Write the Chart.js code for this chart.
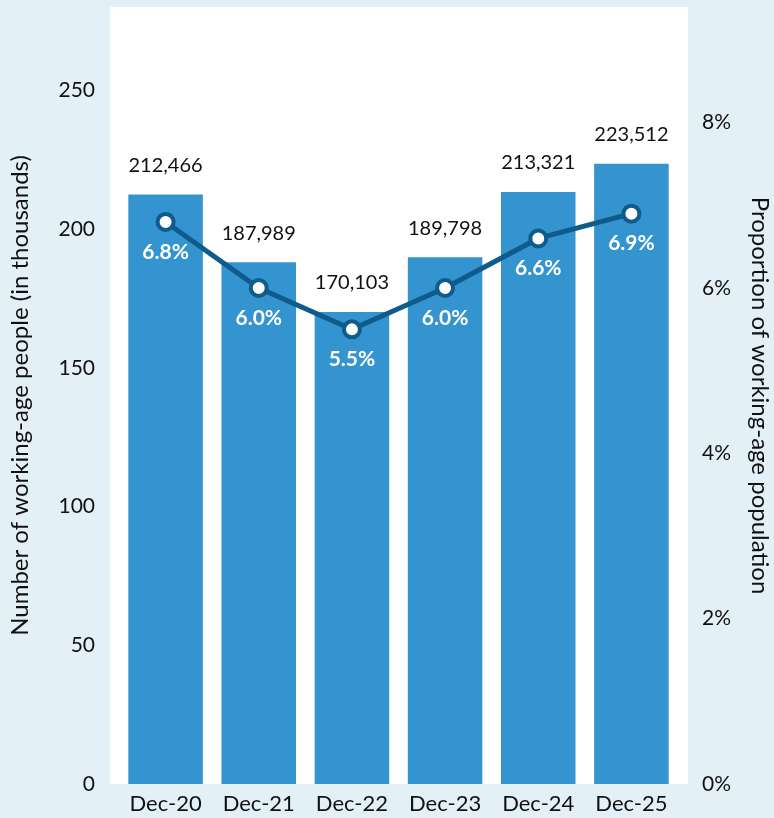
<!DOCTYPE html>
<html>
<head>
<meta charset="utf-8">
<script src="https://cdn.jsdelivr.net/npm/chart.js@4"></script>
<style>
  html, body { margin: 0; padding: 0; background: #e4f0f8; }
  #wrap { width: 774px; height: 818px; }
</style>
</head>
<body>
<div id="wrap"><canvas id="myChart" width="774" height="818"></canvas></div>
<script>
// Datos del gráfico
const categories = ["Dec-20", "Dec-21", "Dec-22", "Dec-23", "Dec-24", "Dec-25"];
const peopleCount = [212466, 187989, 170103, 189798, 213321, 223512];
const proportion = [6.8, 6.0, 5.5, 6.0, 6.6, 6.9];
const leftTicks = [0, 50, 100, 150, 200, 250];
const rightTicks = [0, 2, 4, 6, 8];

const FONT = "Lato, 'Noto Sans', sans-serif";
const BAR_COLOR = "#3494d0";
const LINE_COLOR = "#0e5b8c";

// Fondo azul claro y zona blanca del gráfico
const backgroundPlugin = {
  id: "bgPanel",
  beforeDraw(chart) {
    const { ctx, chartArea: a } = chart;
    ctx.save();
    ctx.fillStyle = "#e4f0f8";
    ctx.fillRect(0, 0, chart.width, chart.height);
    ctx.fillStyle = "#ffffff";
    ctx.fillRect(a.left - 9, a.top, a.right - a.left + 19, a.bottom - a.top);
    ctx.restore();
  },
};

// Etiquetas de valores sobre las barras y debajo de los puntos
const labelsPlugin = {
  id: "valueLabels",
  afterDatasetsDraw(chart) {
    const ctx = chart.ctx;
    ctx.save();
    ctx.textAlign = "center";
    ctx.textBaseline = "middle";

    const barMeta = chart.getDatasetMeta(1);
    ctx.font = "20px " + FONT;
    ctx.fillStyle = "#111111";
    barMeta.data.forEach((bar, i) => {
      ctx.fillText(peopleCount[i].toLocaleString("en-US"), bar.x, bar.y - 29);
    });

    const lineMeta = chart.getDatasetMeta(0);
    ctx.font = "bold 21px " + FONT;
    ctx.fillStyle = "#ffffff";
    lineMeta.data.forEach((pt, i) => {
      ctx.fillText(proportion[i].toFixed(1) + "%", pt.x, pt.y + 30);
    });
    ctx.restore();
  },
};

// Ajusta el ancho fijo de un eje vertical sin relleno extra
function fixWidth(w) {
  return (scale) => {
    scale.width = w;
    scale.paddingTop = 0;
    scale.paddingBottom = 0;
  };
}

const ctx = document.getElementById("myChart").getContext("2d");
new Chart(ctx, {
  data: {
    labels: categories,
    datasets: [
      {
        type: "line",
        data: proportion,
        yAxisID: "yRight",
        borderColor: LINE_COLOR,
        borderWidth: 5,
        pointRadius: 8,
        pointBorderWidth: 4,
        pointBackgroundColor: "#ffffff",
        pointBorderColor: LINE_COLOR,
        tension: 0,
        order: 0,
      },
      {
        type: "bar",
        data: peopleCount.map((v) => v / 1000),
        yAxisID: "yLeft",
        backgroundColor: BAR_COLOR,
        categoryPercentage: 0.8,
        barPercentage: 1,
        order: 1,
      },
    ],
  },
  options: {
    responsive: false,
    animation: false,
    layout: { autoPadding: false, padding: { top: 7, left: 0, right: 0, bottom: 0 } },
    plugins: { legend: { display: false }, tooltip: { enabled: false } },
    scales: {
      x: {
        grid: { display: false, drawTicks: false },
        border: { display: false },
        ticks: { color: "#111111", font: { family: FONT, size: 22 }, padding: 7 },
        afterFit(scale) {
          scale.height = 34;
          scale.paddingLeft = 0;
          scale.paddingRight = 0;
        },
      },
      yLeft: {
        position: "left",
        min: 0,
        max: 280,
        grid: { display: false, drawTicks: false },
        border: { display: false },
        afterBuildTicks(scale) { scale.ticks = leftTicks.map((v) => ({ value: v })); },
        ticks: { color: "#111111", font: { family: FONT, size: 21 }, padding: 24 },
        title: {
          display: true,
          text: "Number of working-age people (in thousands)",
          color: "#111111",
          font: { family: FONT, size: 24 },
          padding: { top: 6, bottom: 0 },
        },
        afterFit: fixWidth(119),
      },
      yRight: {
        position: "right",
        min: 0,
        max: 9.4,
        grid: { display: false, drawTicks: false },
        border: { display: false },
        afterBuildTicks(scale) { scale.ticks = rightTicks.map((v) => ({ value: v })); },
        ticks: {
          color: "#111111",
          font: { family: FONT, size: 21 },
          padding: 24,
          callback: (v) => v + "%",
        },
        title: {
          display: true,
          text: "Proportion of working-age population",
          color: "#111111",
          font: { family: FONT, size: 24 },
          padding: { top: 0, bottom: 2 },
        },
        afterFit: fixWidth(96),
      },
    },
  },
  plugins: [backgroundPlugin, labelsPlugin],
});
</script>
</body>
</html>
